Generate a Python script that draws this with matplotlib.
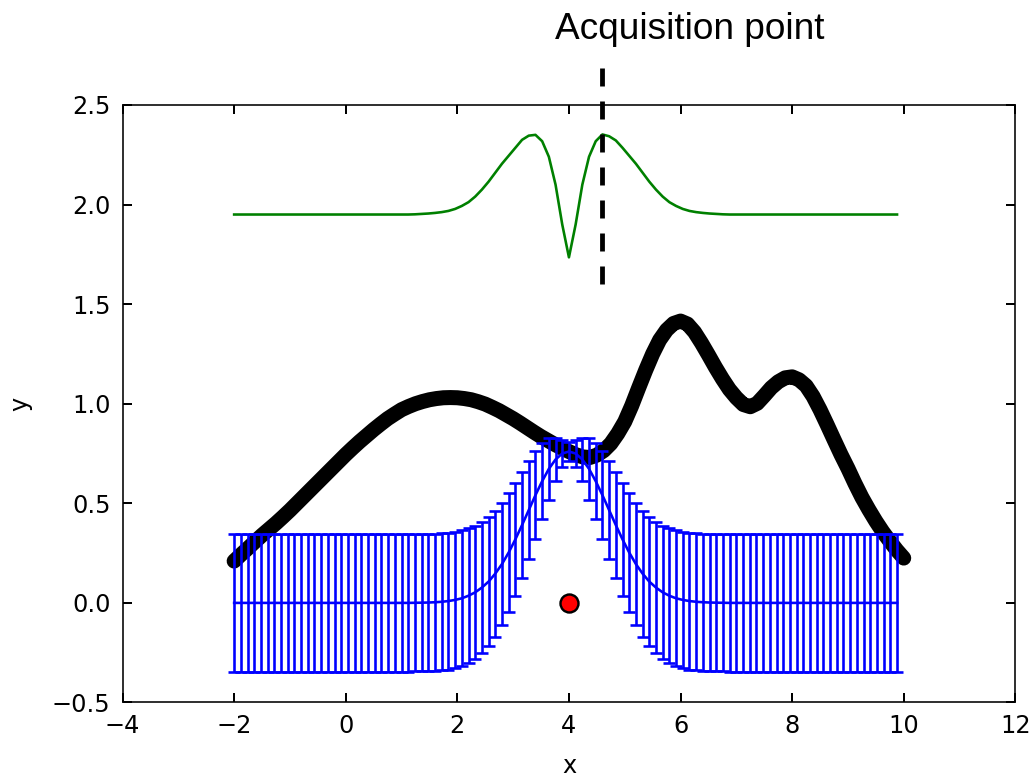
import numpy as np
import matplotlib
matplotlib.use('Agg')
from matplotlib import pyplot as plt

# GP sampling grid (100 points, step 0.12, last point 9.88)
x_grid = np.linspace(-2.0, 9.88, 100)

# posterior mean of the GP (blue line)
post_mean = [
    0.0, 0.0, 0.0, 0.0, 0.0, 0.0, 0.0, 0.0, 0.0, 0.0,
    0.0, 0.0, 0.0, 0.0, 0.0, 0.0, 0.0, 0.0, 0.0, 0.0,
    0.0, 0.0, 0.0, 0.0, 0.0, 0.0, 0.0, 0.0006, 0.0011, 0.0019,
    0.0033, 0.0056, 0.0093, 0.015, 0.023, 0.036, 0.053, 0.077, 0.107, 0.147,
    0.195, 0.253, 0.319, 0.391, 0.466, 0.541, 0.611, 0.673, 0.720, 0.750,
    0.760, 0.750, 0.720, 0.673, 0.611, 0.541, 0.466, 0.391, 0.319, 0.253,
    0.195, 0.147, 0.107, 0.077, 0.053, 0.036, 0.023, 0.015, 0.0093, 0.0056,
    0.0033, 0.0019, 0.0011, 0.0006, 0.0, 0.0, 0.0, 0.0, 0.0, 0.0,
    0.0, 0.0, 0.0, 0.0, 0.0, 0.0, 0.0, 0.0, 0.0, 0.0,
    0.0, 0.0, 0.0, 0.0, 0.0, 0.0, 0.0, 0.0, 0.0, 0.0,
]

# posterior standard deviation (error bars)
post_std = [
    0.345, 0.345, 0.345, 0.345, 0.345, 0.345, 0.345, 0.345, 0.345, 0.345,
    0.345, 0.345, 0.345, 0.345, 0.345, 0.345, 0.345, 0.345, 0.345, 0.345,
    0.345, 0.345, 0.345, 0.345, 0.345, 0.345, 0.345, 0.345, 0.345, 0.345,
    0.345, 0.345, 0.344, 0.343, 0.341, 0.338, 0.334, 0.329, 0.323, 0.316,
    0.308, 0.298, 0.283, 0.265, 0.245, 0.220, 0.190, 0.155, 0.110, 0.070,
    0.050, 0.070, 0.110, 0.155, 0.190, 0.220, 0.245, 0.265, 0.283, 0.298,
    0.308, 0.316, 0.323, 0.329, 0.334, 0.338, 0.341, 0.343, 0.344, 0.345,
    0.345, 0.345, 0.345, 0.345, 0.345, 0.345, 0.345, 0.345, 0.345, 0.345,
    0.345, 0.345, 0.345, 0.345, 0.345, 0.345, 0.345, 0.345, 0.345, 0.345,
    0.345, 0.345, 0.345, 0.345, 0.345, 0.345, 0.345, 0.345, 0.345, 0.345,
]

# acquisition function (green, shifted up)
acq_values = [
    1.95, 1.95, 1.95, 1.95, 1.95, 1.95, 1.95, 1.95, 1.95, 1.95,
    1.95, 1.95, 1.95, 1.95, 1.95, 1.95, 1.95, 1.95, 1.95, 1.95,
    1.95, 1.95, 1.95, 1.95, 1.95, 1.95, 1.95, 1.951, 1.953, 1.955,
    1.958, 1.962, 1.968, 1.978, 1.993, 2.012, 2.040, 2.075, 2.115, 2.160,
    2.205, 2.245, 2.285, 2.325, 2.346, 2.350, 2.318, 2.240, 2.100, 1.900,
    1.735, 1.900, 2.100, 2.240, 2.318, 2.352, 2.343, 2.322, 2.285, 2.245,
    2.205, 2.160, 2.115, 2.075, 2.040, 2.012, 1.993, 1.978, 1.968, 1.962,
    1.958, 1.955, 1.953, 1.951, 1.95, 1.95, 1.95, 1.95, 1.95, 1.95,
    1.95, 1.95, 1.95, 1.95, 1.95, 1.95, 1.95, 1.95, 1.95, 1.95,
    1.95, 1.95, 1.95, 1.95, 1.95, 1.95, 1.95, 1.95, 1.95, 1.95,
]

# true objective (thick black curve), step 0.125 from -2 to 10
x_true = np.linspace(-2.0, 10.0, 97)
y_true = [
    0.21, 0.243, 0.275, 0.308, 0.34, 0.37, 0.40, 0.432,
    0.465, 0.50, 0.535, 0.57, 0.605, 0.64, 0.675, 0.71,
    0.745, 0.778, 0.81, 0.84, 0.87, 0.898, 0.925, 0.948,
    0.97, 0.986, 1.0, 1.011, 1.02, 1.026, 1.03, 1.031,
    1.03, 1.026, 1.02, 1.01, 0.998, 0.982, 0.965, 0.945,
    0.925, 0.903, 0.88, 0.857, 0.835, 0.815, 0.795, 0.777,
    0.76, 0.744, 0.733, 0.73, 0.742, 0.765, 0.80, 0.85,
    0.91, 0.99, 1.08, 1.168, 1.25, 1.32, 1.37, 1.403,
    1.415, 1.40, 1.36, 1.305, 1.245, 1.183, 1.125, 1.072,
    1.03, 0.996, 0.985, 1.002, 1.04, 1.08, 1.11, 1.13,
    1.135, 1.12, 1.09, 1.037, 0.97, 0.896, 0.82, 0.745,
    0.675, 0.60, 0.53, 0.468, 0.41, 0.357, 0.31, 0.265,
    0.225,
]

# observation location (drawn on y=0)
obs_x = [4.0]
obs_y = [0.0]

acq_label = 'Acquisition point'

plt.rcParams['font.family'] = ['DejaVu Sans']
plt.rcParams['lines.scale_dashes'] = False

dpi = 144
fig = plt.figure(figsize=(1035 / dpi, 777 / dpi), dpi=dpi)
ax = fig.add_axes([0.1184, 0.0959, 0.8626, 0.769])

ax.plot(x_true, y_true, color='k', lw=7.5, solid_capstyle='round',
        solid_joinstyle='round', zorder=1)
ax.errorbar(x_grid, post_mean, yerr=post_std, color='b', ecolor='b',
            lw=1.3, elinewidth=1.3, capsize=3, capthick=1.3, zorder=2)
ax.plot(x_grid, acq_values, color='g', lw=1.3, zorder=3)
ax.plot(obs_x, obs_y, 'o', mfc='r', mec='k', ms=9, mew=1.2, zorder=5)

# next point = argmax of acquisition
acq_x = x_grid[int(np.argmax(acq_values))]
ax.plot([acq_x, acq_x], [1.6, 2.71], color='k', lw=2.4, dashes=(9, 7.5),
        clip_on=False, zorder=6)
ax.text(6.17, 2.83, acq_label, fontsize=18.5, ha='center', va='baseline',
        family=['Liberation Sans', 'DejaVu Sans'], clip_on=False)

ax.set_xlim(-4, 12)
ax.set_ylim(-0.5, 2.5)
ax.set_xlabel('x', fontsize=12, labelpad=8)
ax.set_ylabel('y', fontsize=12, labelpad=10)
ax.tick_params(direction='in', top=True, right=True, length=4.5, width=1,
               labelsize=12)
ax.tick_params(axis='x', pad=6)
ax.tick_params(axis='y', pad=6)

fig.savefig('out.png', dpi=dpi)
